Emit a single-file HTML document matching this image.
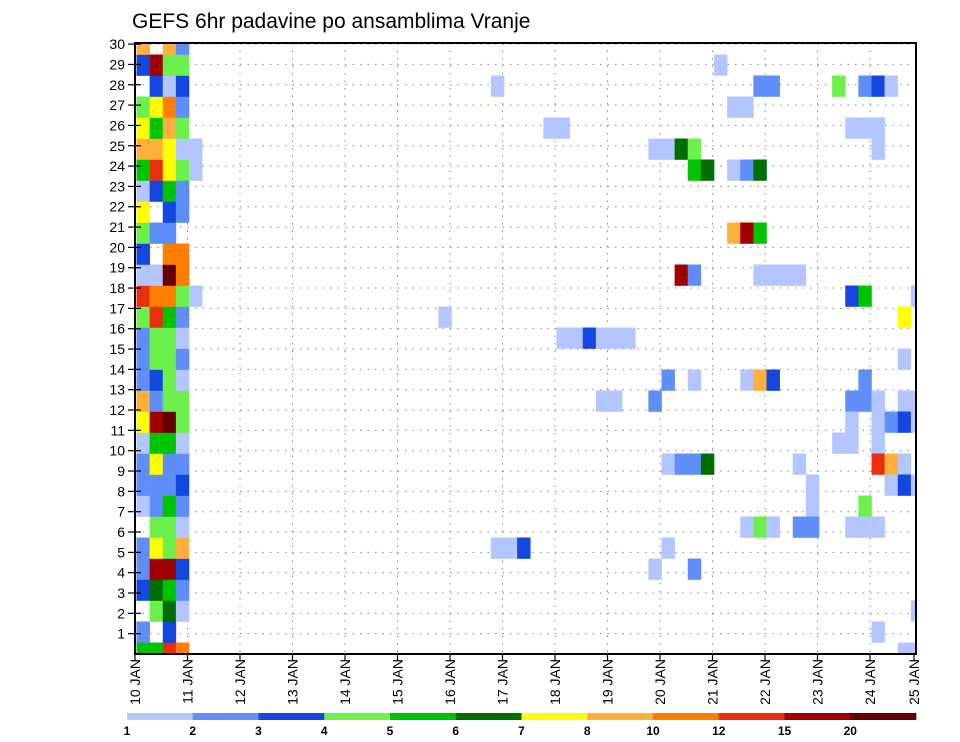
<!DOCTYPE html>
<html><head><meta charset="utf-8"><style>
html,body{margin:0;padding:0;background:#fff}
svg{display:block;font-family:"Liberation Sans",sans-serif}
</style></head><body>
<svg id="chart" width="960" height="742" viewBox="0 0 960 742" xmlns="http://www.w3.org/2000/svg">
<text x="132" y="28" font-size="21" fill="#000">GEFS 6hr padavine po ansamblima Vranje</text>
<defs><clipPath id="plotclip"><rect x="135" y="43" width="781" height="611"/></clipPath></defs>
<g id="grid"></g>
<g id="cells" clip-path="url(#plotclip)"></g>
<g id="axes"></g>
<g id="cbar"></g>
</svg>
<script>
// ---- data ----
const dayLabels = ["10 JAN","11 JAN","12 JAN","13 JAN","14 JAN","15 JAN","16 JAN","17 JAN","18 JAN","19 JAN","20 JAN","21 JAN","22 JAN","23 JAN","24 JAN","25 JAN"];
const memberTicks = [1,2,3,4,5,6,7,8,9,10,11,12,13,14,15,16,17,18,19,20,21,22,23,24,25,26,27,28,29,30];
const classLabels = ["1","2","3","4","5","6","7","8","10","12","15","20"];
const classColors = ["#b4c6ff","#5f8ef8","#1446e0","#6cf04c","#00c400","#006e00","#ffff00","#ffb03c","#ff7d00","#e83010","#a00000","#640000"];
// left block: member j (0..29), classes for time steps 0..4 (0 = none)
const leftBlock = [
 [5,5,10,9,0],[2,0,3,0,0],[0,4,6,1,0],[3,6,5,2,0],[2,11,11,3,0],[2,7,4,8,0],[0,4,4,1,0],[1,2,5,2,0],[2,2,2,3,0],[2,7,2,2,0],
 [1,5,5,1,0],[7,11,12,4,0],[8,2,4,4,0],[2,3,4,1,0],[2,4,4,2,0],[2,4,4,1,0],[4,10,5,2,0],[10,9,9,4,1],[1,1,12,9,0],[3,0,9,9,0],
 [4,2,2,0,0],[7,0,3,2,0],[1,3,5,2,0],[5,10,7,4,1],[8,8,7,1,1],[7,5,8,4,0],[4,7,9,2,0],[0,3,1,3,0],[3,11,4,4,0],[8,0,8,2,0]
];
// sparse cells: time step, member, class
const cellTime   = [44,47,48,53,55,56,57,45,46,54,55,56,39,40,41,42,56,42,43,45,46,47,45,46,47,41,42,47,48,49,50,54,55,59,58,37,58,40,42,46,47,48,55,36,39,54,55,56,58,59,54,56,57,58,59,53,54,56,40,41,42,43,50,56,57,58,51,57,58,59,51,55,46,47,48,50,51,54,55,56,40,39,42,59,56,58,59,27,31,32,23,32,33,34,35,36,35,27,28,29];
const cellMember = [28,27,27,27,27,27,27,26,26,25,25,25,24,24,24,24,24,23,23,23,23,23,20,20,20,18,18,18,18,18,18,17,17,17,16,15,14,13,13,13,13,13,13,12,12,12,12,12,12,12,11,11,11,11,11,10,10,10, 9, 9, 9, 9, 9, 9, 9, 9, 8, 8, 8, 8, 7, 7, 6, 6, 6, 6, 6, 6, 6, 6, 5, 4, 4, 2, 1, 0, 0,27,25,25,16,15,15,15,15,15,12, 5, 5, 5];
const cellClass  = [ 1, 2, 2, 4, 2, 3, 1, 1, 1, 1, 1, 1, 1, 1, 6, 4, 1, 5, 6, 1, 2, 6, 8,11, 5,11, 2, 1, 1, 1, 1, 3, 5, 1, 7, 1, 1, 2, 1, 1, 8, 3, 2, 1, 2, 2, 2, 1, 1, 1, 1, 1, 2, 3, 1, 1, 1, 1, 1, 2, 2, 6, 1,10, 8, 1, 1, 1, 3, 1, 1, 4, 1, 4, 1, 2, 2, 1, 1, 1, 1, 1, 2, 1, 1, 1, 1, 1, 1, 1, 1, 1, 1, 3, 1, 1, 1, 1, 1, 3];

// ---- scales ----
const X0=135, DAYW=52.5, PL=135, PR=916, PT=43, PB=654;
function xDay(d){return X0+d*DAYW;}
function xStep(k){return xDay(k/4)+1.5;}
const STEPW=DAYW/4;
function yMember(j){return 653-21*j;}
const ROWH=21;
function yTick(v){return PB-v*20.33;}

const NS="http://www.w3.org/2000/svg";
function mk(tag,attrs,parent){const e=document.createElementNS(NS,tag);for(const a in attrs)e.setAttribute(a,attrs[a]);parent.appendChild(e);return e;}

const grid=document.getElementById('grid');
for(let v=1;v<=30;v++){
  const l=mk('line',{x1:PL,x2:PR,y1:yTick(v),y2:yTick(v),stroke:'#888','stroke-width':1,'stroke-dasharray':'1.5,6'},grid);
  
  
}
for(let d=1;d<dayLabels.length;d++){
  const x=xDay(d); if(x>=PR) continue;
  const l=mk('line',{x1:x,x2:x,y1:PT,y2:PB,stroke:'#888','stroke-width':1,'stroke-dasharray':'1.5,6'},grid);
  
  
}

const cells=document.getElementById('cells');
function addCell(k,j,c){
  if(!c) return;
  const r=mk('rect',{x:xStep(k),y:yMember(j)-ROWH/2,width:STEPW+0.3,height:ROWH+0.3,fill:classColors[c-1]},cells);
  
  
}
leftBlock.forEach((row,j)=>row.forEach((c,k)=>addCell(k,j,c)));
for(let i=0;i<cellTime.length;i++) addCell(cellTime[i],cellMember[i],cellClass[i]);

const axes=document.getElementById('axes');
const fr=mk('rect',{x:PL,y:PT,width:PR-PL,height:PB-PT,fill:'none',stroke:'#000','stroke-width':2},axes);


memberTicks.forEach(v=>{
  const y=yTick(v);
  const t=mk('line',{x1:128,x2:141,y1:y,y2:y,stroke:'#000','stroke-width':1.2},axes);
  
  
  const tx=mk('text',{x:125,y:y+5,'font-size':14,'text-anchor':'end',fill:'#000'},axes);
  tx.textContent=v;
  
  
});
dayLabels.forEach((lab,d)=>{
  const x=xDay(d); const xx=Math.min(x,914);
  const t=mk('line',{x1:xx,x2:xx,y1:PB,y2:PB+7,stroke:'#000','stroke-width':1.2},axes);
  
  
  const tx=mk('text',{x:0,y:0,'font-size':14,'text-anchor':'end',fill:'#000',transform:`translate(${xx+5},${PB+5}) rotate(-90)`},axes);
  tx.textContent=lab;
  
  
});

const cbar=document.getElementById('cbar');
const CB0=127, CBW=(916-127)/classColors.length;
classColors.forEach((col,i)=>{
  const r=mk('rect',{x:CB0+i*CBW,y:713,width:CBW+0.3,height:7,fill:col},cbar);
  
  
});
classLabels.forEach((lab,i)=>{
  const tx=mk('text',{x:CB0+i*CBW,y:735,'font-size':12,'font-weight':'bold','text-anchor':'middle',fill:'#000'},cbar);
  tx.textContent=lab;
  
  
});
</script>
</body></html>
